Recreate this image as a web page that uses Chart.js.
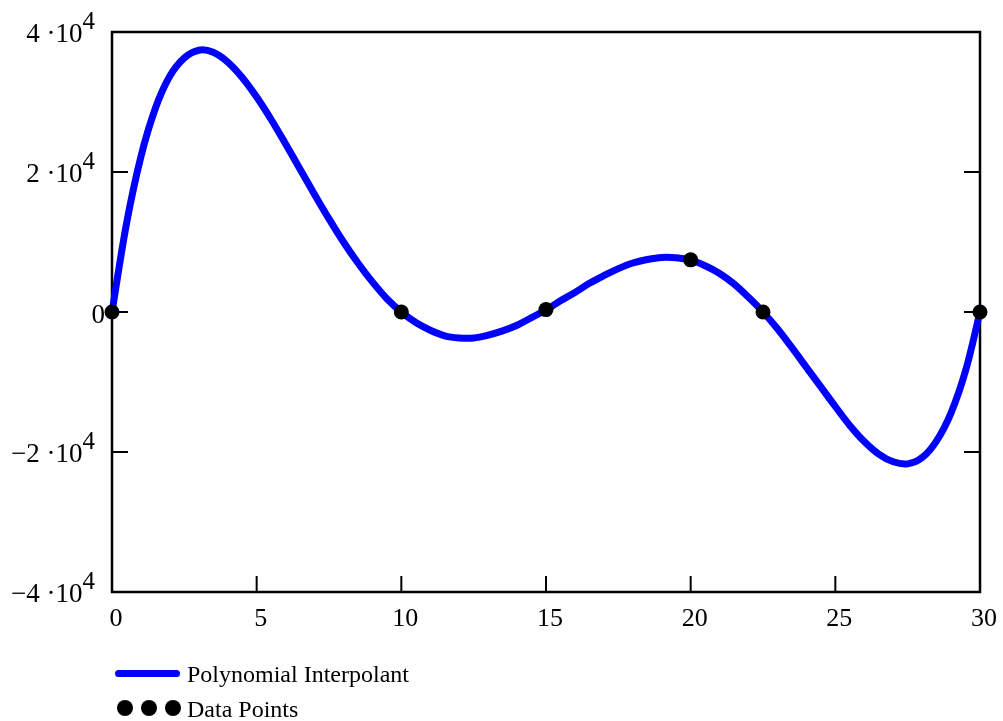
<!DOCTYPE html>
<html>
<head>
<meta charset="utf-8">
<script src="https://cdn.jsdelivr.net/npm/chart.js@4"></script>
<style>
  body { margin: 0; background: #fff; }
  #wrap { position: relative; width: 1003px; height: 721px; }
  #legend { position: absolute; left: 0; top: 0; font-family: "Liberation Serif", serif; font-size: 24px; color: #000; }
  .leg-line { position: absolute; left: 115px; top: 670px; width: 65px; height: 7px; background: #0000ff; border-radius: 4px; }
  .leg-dot { position: absolute; top: 700px; width: 16px; height: 16px; border-radius: 50%; background: #000; }
  .leg-text { position: absolute; left: 187px; line-height: 24px; white-space: nowrap; }
</style>
</head>
<body>
<div id="wrap">
  <canvas id="grafico" width="1003" height="721"></canvas>
  <div id="legend">
    <div class="leg-line"></div>
    <div class="leg-text" style="top:662px">Polynomial Interpolant</div>
    <div class="leg-dot" style="left:117px"></div>
    <div class="leg-dot" style="left:141px"></div>
    <div class="leg-dot" style="left:165px"></div>
    <div class="leg-text" style="top:697px">Data Points</div>
  </div>
</div>
<script>
// curva, paso 0.5
const curva_x = [
  0, 0.5, 1, 1.5, 2, 2.5, 3, 3.5, 4, 4.5, 5, 5.5, 6, 6.5, 7, 7.5, 8, 8.5, 9, 9.5,
  10, 10.5, 11, 11.5, 12, 12.5, 13, 13.5, 14, 14.5, 15, 15.5, 16, 16.5, 17, 17.5,
  18, 18.5, 19, 19.5, 20, 20.5, 21, 21.5, 22, 22.5, 23, 23.5, 24, 24.5, 25, 25.5,
  26, 26.5, 27, 27.5, 28, 28.5, 29, 29.5, 30,
];
const curva_y = [
  0, 12600, 22200, 29100, 33700, 36300, 37400, 37100, 35700, 33500, 30700, 27500,
  24000, 20400, 16800, 13300, 10000, 7000, 4300, 1900,
  0, -1500, -2600, -3400, -3700, -3700, -3300, -2700, -1900, -800, 300, 1600,
  2800, 4100, 5200, 6200, 7000, 7500, 7800, 7750, 7400, 6600, 5500, 4000, 2100, 0,
  -2400, -5100, -7900, -10700, -13500, -16200, -18500, -20300, -21400, -21700,
  -20800, -18400, -14400, -8400, 0,
];
// puntos de datos
const puntos_x = [0, 10, 15, 20, 22.5, 30];
const puntos_y = [0, 0, 340, 7450, 0, 0];

const ticks_x = [0, 5, 10, 15, 20, 25, 30];
const ticks_y = [40000, 20000, 0, -20000, -40000];
const etiquetas_y = ["4 ·10", "2 ·10", "0", "−2 ·10", "−4 ·10"];
const exponentes_y = ["4", "4", "", "4", "4"];

const marco = {
  id: "marco",
  beforeDatasetsDraw: (chart) => {
    const ctx = chart.ctx;
    const a = chart.chartArea;
    const sx = chart.scales.x;
    const sy = chart.scales.y;
    ctx.save();
    ctx.strokeStyle = "#000";
    ctx.lineWidth = 2.5;
    ctx.strokeRect(a.left, a.top, a.right - a.left, a.bottom - a.top);
    ctx.lineWidth = 2;
    ctx.beginPath();
    ticks_y.forEach((v) => {
      const y = sy.getPixelForValue(v);
      ctx.moveTo(a.left, y);
      ctx.lineTo(a.left + 16, y);
      ctx.moveTo(a.right, y);
      ctx.lineTo(a.right - 16, y);
    });
    ticks_x.forEach((v) => {
      const x = sx.getPixelForValue(v);
      ctx.moveTo(x, a.bottom);
      ctx.lineTo(x, a.bottom - 16);
    });
    ctx.stroke();
    // etiquetas del eje y con exponente
    ctx.fillStyle = "#000";
    ctx.textAlign = "right";
    ctx.textBaseline = "alphabetic";
    ticks_y.forEach((v, i) => {
      const y = sy.getPixelForValue(v);
      if (exponentes_y[i] === "") {
        ctx.font = '27px "Liberation Serif"';
        ctx.fillText(etiquetas_y[i], 105, y + 11);
      } else {
        ctx.font = '25px "Liberation Serif"';
        ctx.fillText(exponentes_y[i], 95, y - 3);
        const w = ctx.measureText(exponentes_y[i]).width;
        ctx.font = '27px "Liberation Serif"';
        ctx.fillText(etiquetas_y[i], 95 - w, y + 10);
      }
    });
    ctx.restore();
  },
};

const ctx = document.getElementById("grafico").getContext("2d");
const grafico = new Chart(ctx, {
  type: "line",
  data: {
    datasets: [
      {
        label: "Polynomial Interpolant",
        data: curva_x.map((x, i) => ({ x: x, y: curva_y[i] })),
        borderColor: "#0000ff",
        borderWidth: 7,
        pointRadius: 0,
        tension: 0.35,
        clip: false,
        order: 2,
      },
      {
        label: "Data Points",
        data: puntos_x.map((x, i) => ({ x: x, y: puntos_y[i] })),
        showLine: false,
        pointRadius: 7.5,
        pointBackgroundColor: "#000",
        pointBorderWidth: 0,
        clip: false,
        order: 1,
      },
    ],
  },
  options: {
    responsive: false,
    animation: false,
    layout: { padding: { top: 32, right: 23, left: 0, bottom: 0 } },
    plugins: {
      legend: { display: false },
      tooltip: { enabled: false },
    },
    scales: {
      x: {
        type: "linear",
        min: 0,
        max: 30,
        afterFit: (s) => { s.height = 129; },
        grid: { display: false },
        border: { display: false },
        ticks: {
          stepSize: 5,
          autoSkip: false,
          maxRotation: 0,
          padding: 4,
          labelOffset: 4,
          color: "#000",
          font: { family: "Liberation Serif", size: 26 },
        },
      },
      y: {
        min: -40000,
        max: 40000,
        afterFit: (s) => { s.width = 112; },
        grid: { display: false },
        border: { display: false },
        ticks: { display: false },
      },
    },
  },
  plugins: [marco],
});
</script>
</body>
</html>
